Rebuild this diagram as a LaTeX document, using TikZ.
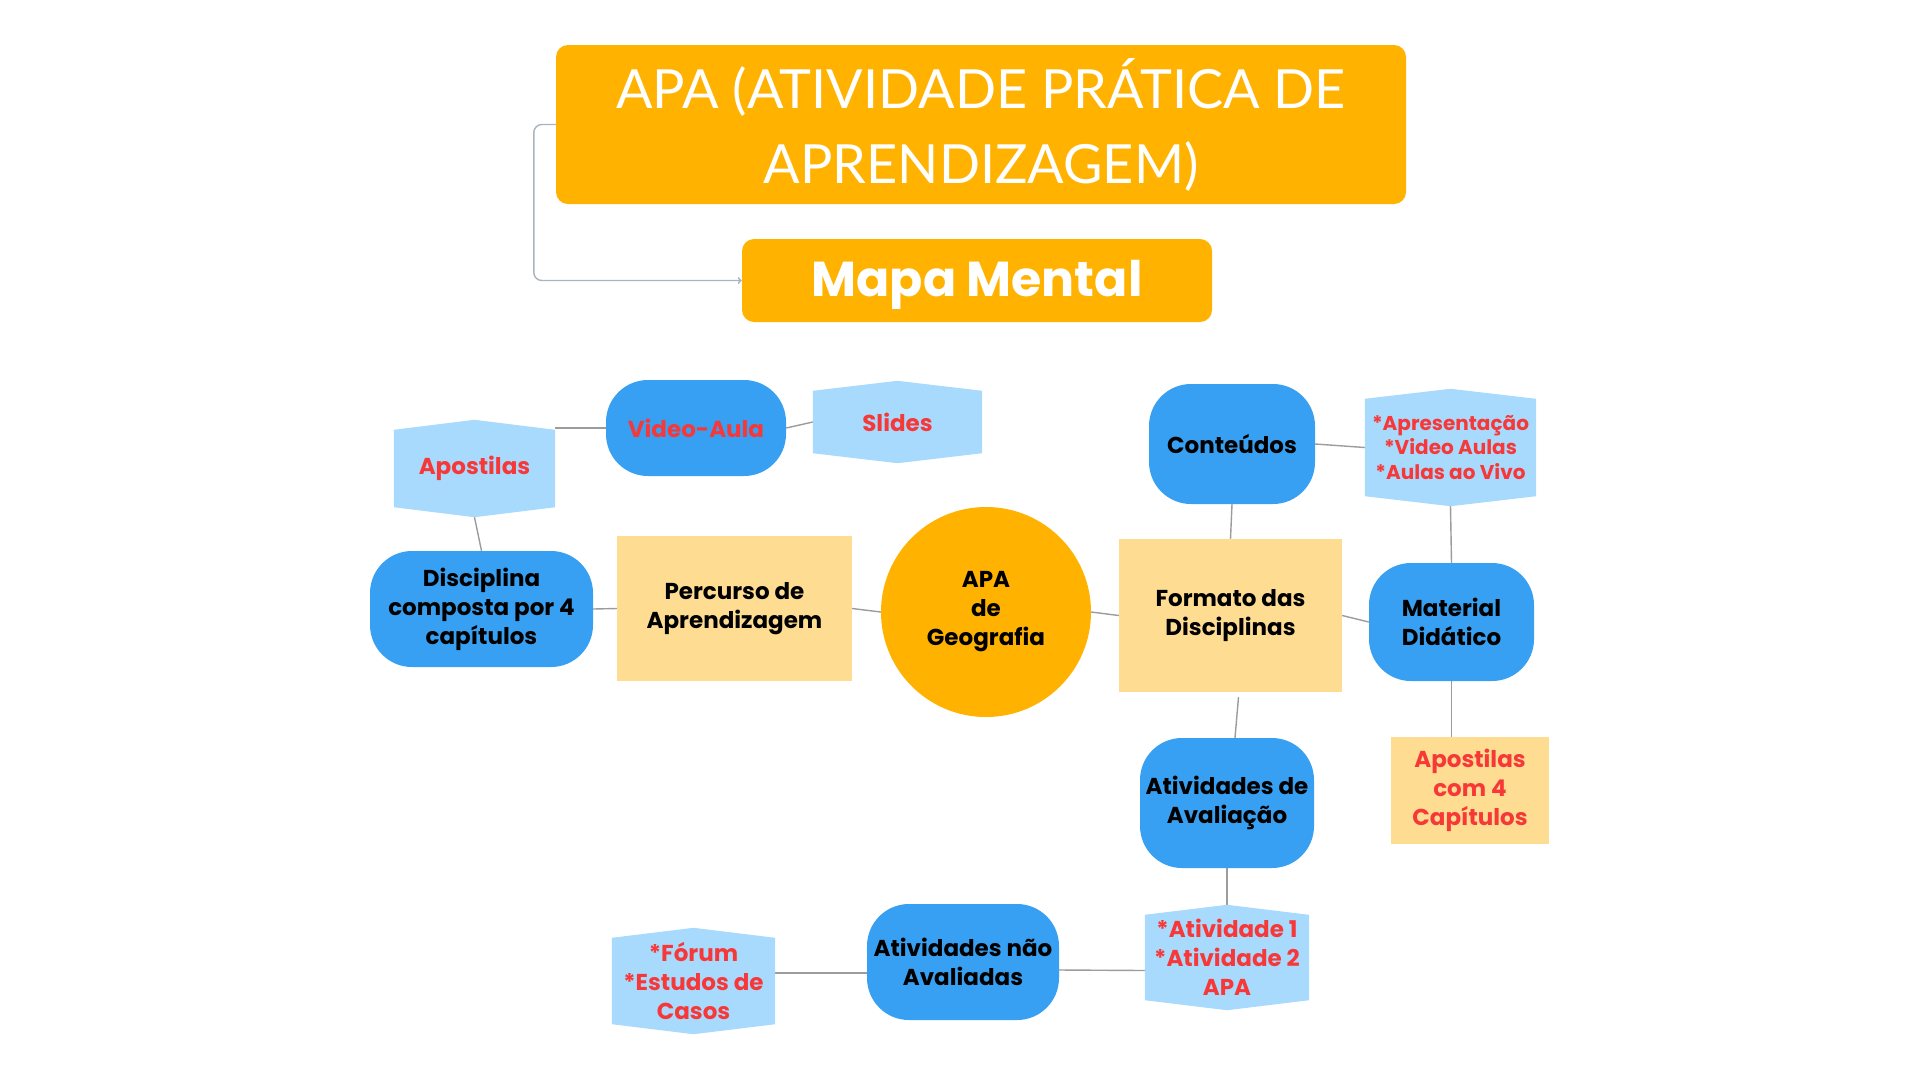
\documentclass[tikz,border=0pt]{standalone}
\usepackage{fontspec}
\setmainfont{Poppins}
\newfontfamily\titlefont{Lato}
\usetikzlibrary{arrows.meta,backgrounds,calc}
\definecolor{orangeC}{HTML}{FFB200}
\definecolor{blueC}{HTML}{38A0F2}
\definecolor{lightblueC}{HTML}{A8DAFE}
\definecolor{yellowC}{HTML}{FEDC92}
\definecolor{redC}{HTML}{F73838}
\definecolor{lineC}{HTML}{9C9C9C}
\definecolor{bracketC}{HTML}{A9B4BE}
\newcommand\hexfill[1]{\fill[lightblueC] (#1.north west) -- ([yshift=10pt]#1.north) -- (#1.north east) -- (#1.south east) -- ([yshift=-10pt]#1.south) -- (#1.south west) -- cycle;}
\tikzset{
  base/.style={inner sep=0pt, align=center, font=\fontsize{23}{29}\selectfont\bfseries},
  bluebox/.style={base, fill=blueC, rounded corners=42pt},
  yellowbox/.style={base, fill=yellowC},
  hexbox/.style={base, text=redC},
  conn/.style={draw=lineC, line width=1.4pt},
}
\begin{document}
\begin{tikzpicture}[x=1pt,y=-1pt]
\useasboundingbox (0,0) rectangle (1920,1080);

% titles
\node[fill=orangeC, rounded corners=12pt, minimum width=850pt, minimum height=159pt, inner sep=0pt,
  text=white, align=center, font=\titlefont\fontsize{54}{75}\selectfont] (title) at (981,124.5)
  {APA (ATIVIDADE PRÁTICA DE\\APRENDIZAGEM)};
\node[fill=orangeC, rounded corners=12pt, minimum width=470pt, minimum height=83pt, inner sep=0pt,
  text=white, font=\fontsize{49}{56}\selectfont\bfseries, text depth=4pt] (mapa) at (977,280.5) {Mapa Mental};
\draw[bracketC, line width=1.4pt, rounded corners=8pt, -{To[length=4pt,width=7pt]}]
  (title.west) -- ++(-22,0) |- (mapa.west);

% nodes
\node[bluebox, text=redC, minimum width=180pt, minimum height=96pt] (vaula) at (696,428) {Video-Aula};
\node[hexbox, minimum width=169pt, minimum height=62pt] (slides) at (897.5,422) {Slides};
\node[hexbox, minimum width=161pt, minimum height=77pt] (apost) at (474.5,468.5) {Apostilas};
\node[bluebox, minimum width=223pt, minimum height=116pt] (disc) at (481.5,609) {Disciplina\\composta por 4\\capítulos};
\node[yellowbox, minimum width=235pt, minimum height=145pt] (perc) at (734.5,608.5) {Percurso de\\Aprendizagem};
\node[base, fill=orangeC, circle, minimum size=210pt] (apa) at (986,612) {APA\\de\\Geografia};
\node[yellowbox, minimum width=223pt, minimum height=153pt] (form) at (1230.5,615.5) {Formato das\\Disciplinas};
\node[bluebox, minimum width=166pt, minimum height=120pt] (cont) at (1232,444) {Conteúdos};
\node[hexbox, minimum width=171pt, minimum height=97pt, font=\fontsize{20}{24.5}\selectfont\bfseries] (apres) at (1450.5,447.5) {*Apresentação\\*Video Aulas\\*Aulas ao Vivo};
\node[bluebox, minimum width=165pt, minimum height=118pt] (mat) at (1451.5,622) {Material\\Didático};
\node[yellowbox, text=redC, minimum width=158pt, minimum height=107pt] (ap4) at (1470,790.5) {Apostilas\\com 4\\Capítulos};
\node[bluebox, minimum width=174pt, minimum height=130pt] (aval) at (1227,803) {Atividades de\\Avaliação};
\node[hexbox, minimum width=164pt, minimum height=85pt] (ativ) at (1227,957.5) {*Atividade 1\\*Atividade 2\\APA};
\node[bluebox, minimum width=192pt, minimum height=116pt] (nao) at (963,962) {Atividades não\\Avaliadas};
\node[hexbox, minimum width=163pt, minimum height=86pt] (forum) at (693.5,981) {*Fórum\\*Estudos de\\Casos};

\begin{pgfonlayer}{background}
  \fill[white] (0,0) rectangle (1920,1080);
  \draw[conn] (apost.east |- vaula.west) -- (vaula.west);
  \draw[conn] (vaula.east) -- (slides.west);
  \draw[conn] ([yshift=-10pt]apost.south) -- (disc.north);
  \draw[conn] (disc.east) -- (perc.west);
  \draw[conn] (perc.east) -- (apa.west);
  \draw[conn] (apa.east) -- (form.west);
  \draw[conn] (form.north) -- (cont.south);
  \draw[conn] (cont.east) -- (apres.west);
  \draw[conn] ([yshift=-10pt]apres.south) -- (mat.north);
  \draw[conn] (form.east) -- (mat.west);
  \draw[conn] (mat.south) -- (mat.south |- ap4.north);
  \draw[conn] ([xshift=8pt,yshift=-5pt]form.south) -- ([xshift=8pt]aval.north);
  \draw[conn] (aval.south) -- ([yshift=10pt]ativ.north);
  \draw[conn] ([yshift=-13pt]ativ.west) -- ([yshift=-8pt]nao.east);
  \draw[conn] ([yshift=-11pt]nao.west) -- ([yshift=-11pt]nao.west -| forum.east);
  \hexfill{slides}
  \hexfill{apost}
  \hexfill{apres}
  \hexfill{ativ}
  \hexfill{forum}
\end{pgfonlayer}
\end{tikzpicture}
\end{document}
